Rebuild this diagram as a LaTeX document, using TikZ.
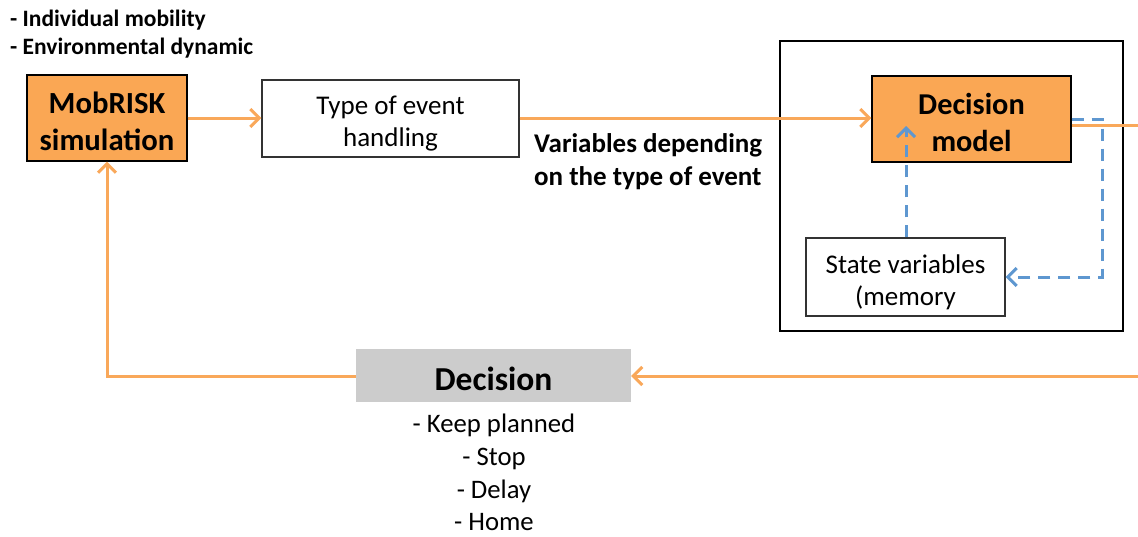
\documentclass[tikz,border=0pt]{standalone}
\usepackage{fontspec}
\setmainfont{Carlito}
\usetikzlibrary{arrows.meta}
\definecolor{orfill}{HTML}{FAA754}
\definecolor{orline}{HTML}{F9A85A}
\definecolor{bluel}{HTML}{5E97D0}
\definecolor{grayfill}{HTML}{CCCCCC}
\tikzset{
  orbox/.style={draw=black, line width=1.2pt, fill=orfill, inner sep=0pt},
  whbox/.style={draw=black!80, line width=1.2pt, fill=white, inner sep=0pt},
  bigtxt/.style={inner sep=0pt, align=center, font=\fontsize{30.7}{37}\selectfont\bfseries},
  midtxt/.style={inner sep=0pt, align=center, font=\fontsize{27}{32}\selectfont},
  orarrow/.style={draw=orline, line width=3pt, -{Straight Barb[length=9pt,width=18pt,line width=3pt]}},
  orline/.style={draw=orline, line width=3pt},
  bluearrow/.style={draw=bluel, line width=3pt, dash pattern=on 12pt off 8pt, -{Straight Barb[length=9pt,width=18pt,line width=3pt]}},
  lbl/.style={inner sep=0pt, align=left}
}
\begin{document}
\begin{tikzpicture}[x=1pt,y=-1pt]
\useasboundingbox (0,0) rectangle (1138,536);
% outer frame
\node[draw=black, line width=1.2pt, minimum width=343pt, minimum height=290pt, inner sep=0pt] (frame) at (951.5,186) {};
% boxes
\node[orbox, minimum width=160pt, minimum height=86pt] (mob) at (107,118) {};
\node[whbox, minimum width=257pt, minimum height=77pt] (type) at (390.5,118.5) {};
\node[orbox, minimum width=199pt, minimum height=86pt] (dm) at (971.5,119) {};
\node[whbox, minimum width=199pt, minimum height=78pt] (sv) at (905.5,277) {};
\node[fill=grayfill, minimum width=275pt, minimum height=53pt, inner sep=0pt] (dec) at (493.5,375.5) {};
% box texts
\node[bigtxt] (mobtxt) at ([yshift=-3.5pt]mob.center) {MobRISK\\simulation};
\node[midtxt] (typetxt) at ([yshift=-5.5pt]type.center) {Type of event\\handling};
\node[bigtxt, font=\fontsize{30.3}{37}\selectfont\bfseries] (dmtxt) at ([yshift=-3.5pt]dm.center) {Decision\\model};
\node[midtxt] (svtxt) at ([yshift=-5pt]sv.center) {State variables\\(memory};
\node[inner sep=0pt, font=\fontsize{33.5}{37}\selectfont\bfseries] (dectxt) at ([yshift=-3pt]dec.center) {Decision};
% free texts
\node[lbl, anchor=west, font=\fontsize{23.5}{28}\selectfont\bfseries] (inputs) at (10,34) {- Individual mobility\\- Environmental dynamic};
\node[lbl, anchor=west, font=\fontsize{27}{33}\selectfont\bfseries] (vars) at (534,161.5) {Variables depending\\on the type of event};
\node[inner sep=0pt, align=center, anchor=north, font=\fontsize{26.7}{32.7}\selectfont] (opts) at (494,414) {- Keep planned\\- Stop\\- Delay\\- Home};
% coordinates
\coordinate (outA) at (1138,125);
\coordinate (inB) at (1138,376);
\coordinate (cornerL) at (107,376);
\coordinate (dmIn) at (906,126);
\coordinate (c1) at (1102,119);
\coordinate (c2) at (1102,277);
% orange connectors
\draw[orarrow] (mob.east |- 0,118) -- (type.west |- 0,118);
\draw[orarrow] (type.east |- 0,118) -- (dm.west |- 0,118);
\draw[orline] (dm.east |- outA) -- (outA);
\draw[orarrow] (inB) -- (dec.east |- inB);
\draw[orarrow] (dec.west |- cornerL) -- (cornerL) -- (mob.south);
% blue dashed
\draw[bluearrow] (sv.north -| dmIn) -- (dmIn);
\draw[bluearrow] (dm.east |- c1) -- (c1) -- (c2) -- (sv.east |- c2);
\end{tikzpicture}
\end{document}
